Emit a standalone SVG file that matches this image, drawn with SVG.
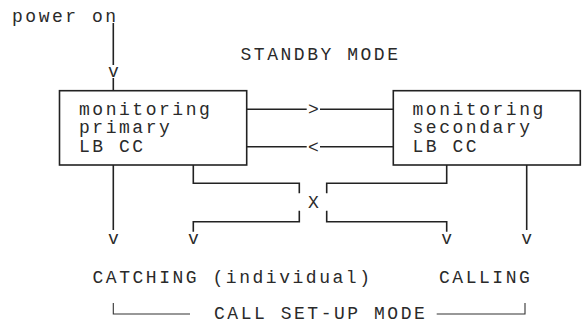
<svg xmlns="http://www.w3.org/2000/svg" width="583" height="325" viewBox="0 0 583 325">
<style>
  text { font-family: "Liberation Mono", "DejaVu Sans Mono", monospace; font-size: 18px; fill: #2a2a2a; }
  .t { letter-spacing: 2.53px; }
  .c { text-anchor: middle; }
  .ln { fill: none; stroke: #222; stroke-width: 1.6; }
  .thin { fill: none; stroke: #333; stroke-width: 1.1; }
  .box { fill: #fff; stroke: #222; stroke-width: 1.6; }
</style>
<rect width="583" height="325" fill="#fff"/>

<g id="power-on">
  <text class="t" x="12" y="22">power on</text>
</g>
<g id="standby-label">
  <text class="t" x="240.5" y="60">STANDBY MODE</text>
</g>

<g id="primary">
  <rect class="box" x="59.5" y="90.7" width="187.2" height="74.3"/>
  <text class="t" x="79" y="114.5">monitoring</text>
  <text class="t" x="79" y="133">primary</text>
  <text class="t" x="79" y="152">LB CC</text>
</g>

<g id="secondary">
  <rect class="box" x="393.3" y="90.7" width="187" height="74.3"/>
  <text class="t" x="412.5" y="114.5">monitoring</text>
  <text class="t" x="412.5" y="133">secondary</text>
  <text class="t" x="412.5" y="152">LB CC</text>
</g>

<g id="catching">
  <text class="t" x="92.5" y="283">CATCHING (individual)</text>
</g>
<g id="calling">
  <text class="t" x="439" y="283">CALLING</text>
</g>

<g id="call-setup">
  <path class="thin" d="M113.3,303 V314 H190"/>
  <path class="thin" d="M436.7,314 H525 V303"/>
  <text class="t" x="214" y="319">CALL SET-UP MODE</text>
</g>

<g id="connectors">
  <!-- power on to primary -->
  <path class="ln" d="M113.3,23 V65"/>
  <text class="c" x="113.3" y="77">v</text>
  <path class="ln" d="M113.3,78 V90.7"/>

  <!-- primary to secondary -->
  <path class="ln" d="M246.7,109.3 H306.7 M320,109.3 H393.3"/>
  <text class="c" x="313.3" y="115.3">&gt;</text>
  <!-- secondary to primary -->
  <path class="ln" d="M246.7,146.7 H306.7 M320,146.7 H393.3"/>
  <text class="c" x="313.3" y="152.7">&lt;</text>

  <!-- primary down -->
  <path class="ln" d="M113.3,165 V230"/>
  <text class="c" x="113.3" y="244">v</text>

  <!-- crossover -->
  <path class="ln" d="M193.3,165 V183.3 H299.3 V193.3"/>
  <path class="ln" d="M299.3,210.7 V221.7 H193.3 V231.7"/>
  <text class="c" x="193.3" y="244">v</text>
  <path class="ln" d="M446.7,165 V183.3 H326.7 V193.3"/>
  <path class="ln" d="M326.7,210.7 V221.7 H446.7 V231.7"/>
  <text class="c" x="446.7" y="244">v</text>
  <text class="c" x="313.3" y="208">X</text>

  <!-- secondary down -->
  <path class="ln" d="M526.7,165 V230"/>
  <text class="c" x="526.7" y="244">v</text>
</g>
</svg>
